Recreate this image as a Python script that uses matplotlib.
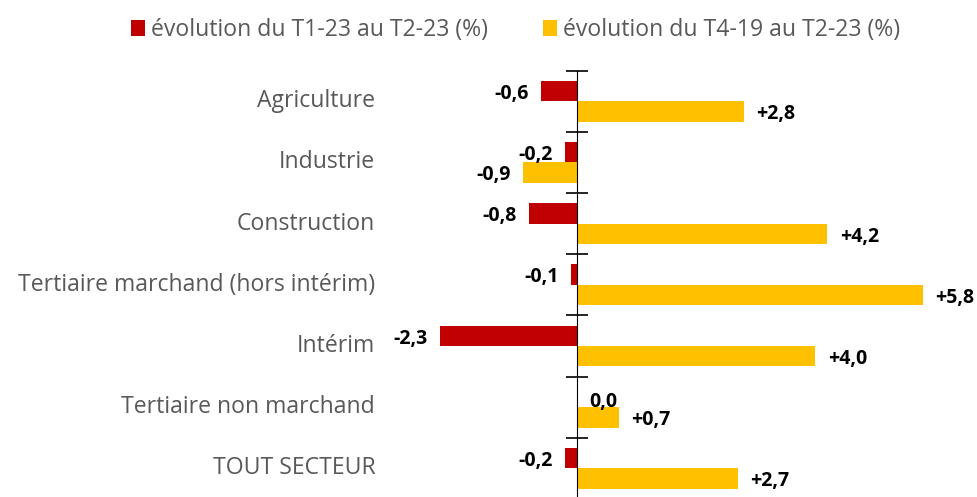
import numpy as np
import matplotlib.pyplot as plt

categories = ["Agriculture", "Industrie", "Construction",
              "Tertiaire marchand (hors intérim)", "Intérim",
              "Tertiaire non marchand", "TOUT SECTEUR"]
evol_trim = [-0.6, -0.2, -0.8, -0.1, -2.3, 0.0, -0.2]   # T1-23 -> T2-23
evol_19 = [2.8, -0.9, 4.2, 5.8, 4.0, 0.7, 2.7]          # T4-19 -> T2-23
series_names = ["évolution du T1-23 au T2-23 (%)",
                "évolution du T4-19 au T2-23 (%)"]

red = '#C00000'
yellow = '#FFC000'
grey = '#595959'
plt.rcParams['font.family'] = ['Open Sans', 'DejaVu Sans']

fig = plt.figure(figsize=(9.78, 4.97), dpi=100)
ax = fig.add_axes([380 / 978, -2 / 497, 580 / 978, 428.3 / 497])

y = np.arange(len(categories))
h = 0.333
b1 = ax.barh(y - h / 2, evol_trim, height=h, color=red, label=series_names[0])
b2 = ax.barh(y + h / 2, evol_19, height=h, color=yellow, label=series_names[1])

ax.set_xlim(-3.305, 6.426)
ax.set_ylim(len(categories) - 0.5, -0.5)

# axe vertical au zéro, graduations entre catégories
for s in ['top', 'right', 'bottom']:
    ax.spines[s].set_visible(False)
ax.spines['left'].set_position(('data', 0))
ax.spines['left'].set_color('black')
ax.spines['left'].set_zorder(3)
ax.set_yticks(np.arange(len(categories) + 1) - 0.5)
ax.tick_params(axis='y', direction='inout', length=16, width=1.2, labelleft=False)
ax.set_xticks([])

for i, cat in enumerate(categories):
    ax.annotate(cat, xy=(0, i), xycoords=('axes fraction', 'data'),
                xytext=(-3.5, 0), textcoords='offset points',
                ha='right', va='center', fontsize=16.6, color=grey)

def fmt(v):
    s = f"{v:+.1f}".replace('.', ',')
    if v == 0:
        s = "0,0"
    return s

for bars, vals in [(b1, evol_trim), (b2, evol_19)]:
    for bar, v in zip(bars, vals):
        yc = bar.get_y() + bar.get_height() / 2
        dy = -2
        if v == 0:
            dy = -3.5
        if v < 0:
            ax.annotate(fmt(v), xy=(v, yc), xytext=(-9, dy), textcoords='offset points',
                        ha='right', va='center', fontsize=14, fontweight='bold')
        else:
            ax.annotate(fmt(v), xy=(v, yc), xytext=(9, dy), textcoords='offset points',
                        ha='left', va='center', fontsize=14, fontweight='bold')

fig.legend(handles=[b1, b2], loc='upper center', bbox_to_anchor=(0.527, 1.005),
           ncol=2, frameon=False, fontsize=16.6, labelcolor=grey,
           handlelength=0.6, handleheight=0.65, handletextpad=0.26, columnspacing=2.4)

fig.savefig('out.png', dpi=100)
